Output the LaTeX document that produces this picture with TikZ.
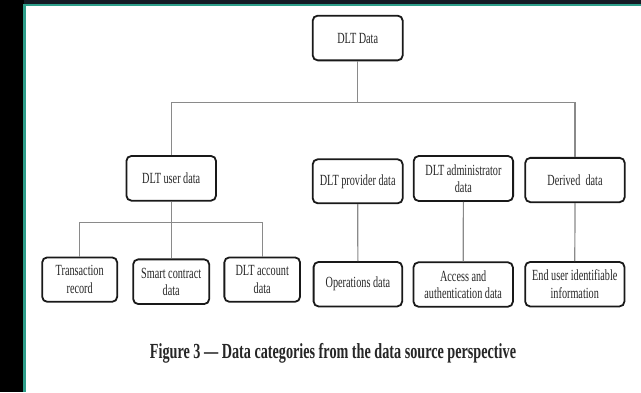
\documentclass[tikz,border=0pt]{standalone}
\usepackage{fontspec}
\setmainfont[FakeStretch=0.66,Ligatures=TeX]{Liberation Serif}
\newfontfamily\capfont[FakeStretch=0.66,Ligatures=TeX]{Liberation Serif}
\definecolor{teal1}{HTML}{2E9E8A}
\definecolor{topdark}{HTML}{141A24}
\definecolor{txt}{HTML}{262626}
\definecolor{conn}{HTML}{8A8A8A}
\begin{document}
\begin{tikzpicture}[x=1pt,y=-1pt,
  box/.style={draw=black!90, line width=1.8pt, rounded corners=5pt, fill=white,
    align=center, inner sep=0pt, text=txt, font=\fontsize{15.5}{17.5}\selectfont},
  link/.style={draw=conn, line width=1.2pt}]
% background and frame
\fill[white] (0,0) rectangle (641,392);
\fill[topdark] (0,0) rectangle (641,4.5);
\fill[black] (0,0) rectangle (23.5,392);
\fill[teal1] (22.5,3.5) rectangle (641,6);
\fill[teal1] (22.5,3.5) rectangle (25.5,392);
\useasboundingbox (0,0) rectangle (641,392);
% nodes
\node[box, minimum width=90pt, minimum height=44.7pt] (root) at (357.7,38) {DLT Data};
\node[box, minimum width=89.6pt, minimum height=44.7pt] (user) at (171.2,178.3) {DLT user data};
\node[box, minimum width=90pt, minimum height=44pt] (prov) at (357.7,181.3) {DLT provider data};
\node[box, minimum width=99.4pt, minimum height=45pt] (admin) at (463.4,178.5) {DLT administrator\\data};
\node[box, minimum width=99.4pt, minimum height=44.3pt] (der) at (575,180) {Derived\ \ data};
\node[box, minimum width=75pt, minimum height=44.4pt] (tx) at (79.7,279.6) {Transaction\\record};
\node[box, minimum width=76pt, minimum height=44.7pt] (smart) at (171.2,281.7) {Smart contract\\data};
\node[box, minimum width=75.7pt, minimum height=44.4pt] (acct) at (262.2,279.6) {DLT account\\data};
\node[box, minimum width=88.6pt, minimum height=44.5pt] (ops) at (357.9,284.2) {Operations data};
\node[box, minimum width=99.4pt, minimum height=44.4pt] (access) at (463.2,284.5) {Access and\\authentication data};
\node[box, minimum width=99.3pt, minimum height=44.5pt] (enduser) at (574.8,284.2) {End user identifiable\\information};
% junctions
\coordinate (j1) at (357.7,102.3);
\coordinate (j2) at (171.2,222.5);
% connectors
\draw[link] (root.south) -- (j1);
\draw[link] (user.north) |- (j1) -| (der.north);
\draw[link] (user.south) -- (smart.north);
\draw[link] (tx.north) |- (j2) -| (acct.north);
\draw[link] (prov.south) -- (ops.north);
\draw[link] (admin.south) -- (access.north);
\draw[link] (der.south) -- (enduser.north);
% caption
\node[text=txt, font=\capfont\bfseries\fontsize{21.5}{24}\selectfont, inner sep=0pt] (cap) at (333,353) {Figure 3 — Data categories from the data source perspective};
\end{tikzpicture}
\end{document}
